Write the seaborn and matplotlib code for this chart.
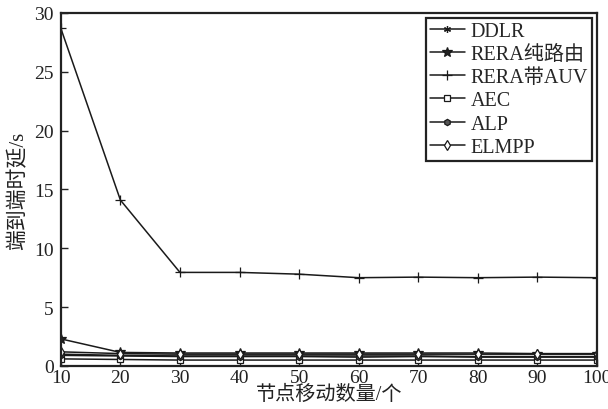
import matplotlib
matplotlib.use("Agg")
import matplotlib.pyplot as plt
import seaborn as sns
import pandas as pd

x_nodes = [10, 20, 30, 40, 50, 60, 70, 80, 90, 100]
ddlr = [1.0, 0.9, 0.85, 0.85, 0.85, 0.85, 0.85, 0.8, 0.8, 0.8]
rera_route = [2.3, 1.15, 1.1, 1.1, 1.1, 1.1, 1.1, 1.1, 1.05, 1.05]
rera_auv = [28.7, 14.1, 7.95, 7.95, 7.8, 7.5, 7.55, 7.5, 7.55, 7.5]
aec = [0.6, 0.55, 0.5, 0.5, 0.5, 0.5, 0.5, 0.5, 0.5, 0.5]
alp = [0.9, 0.85, 0.8, 0.8, 0.8, 0.75, 0.8, 0.75, 0.75, 0.75]
elmpp = [1.2, 1.05, 1.0, 1.0, 1.0, 1.0, 1.0, 1.0, 1.0, 1.0]
series_names = ["DDLR", "RERA纯路由", "RERA带AUV", "AEC", "ALP", "ELMPP"]
x_label = "节点移动数量/个"
y_label = "端到端时延/s"
x_ticks = [10, 20, 30, 40, 50, 60, 70, 80, 90, 100]
y_ticks = [0, 5, 10, 15, 20, 25, 30]

sns.set_style("ticks")
plt.rcParams['font.family'] = ['Liberation Serif', 'Noto Sans CJK SC']
plt.rcParams['axes.unicode_minus'] = False

values = [ddlr, rera_route, rera_auv, aec, alp, elmpp]
df = pd.DataFrame({
    "x": x_nodes * len(series_names),
    "y": [v for s in values for v in s],
    "series": [n for n in series_names for _ in x_nodes],
})

marker_map = {"DDLR": (6, 2, 0), "RERA纯路由": "*", "RERA带AUV": "+",
              "AEC": "s", "ALP": "h", "ELMPP": "d"}
size_map = {"DDLR": 5, "RERA纯路由": 7, "RERA带AUV": 7,
            "AEC": 4, "ALP": 4.5, "ELMPP": 5}
face_map = {"DDLR": "#222222", "RERA纯路由": "#222222", "RERA带AUV": "#222222",
            "AEC": "white", "ALP": "#555555", "ELMPP": "white"}

fig = plt.figure(figsize=(6.08, 4.10), dpi=100)
ax = fig.add_axes([0.100, 0.105, 0.882, 0.861])

for name in series_names:
    sub = df[df["series"] == name]
    sns.lineplot(data=sub, x="x", y="y", ax=ax, color="#1a1a1a", linewidth=1.1,
                 marker=marker_map[name], markersize=size_map[name],
                 markerfacecolor=face_map[name], markeredgecolor="#1a1a1a",
                 markeredgewidth=0.9, label=name)

ax.set_xlim(10, 100)
ax.set_ylim(0, 30)
ax.set_xticks(x_ticks)
ax.set_yticks(y_ticks)
ax.tick_params(direction="in", length=5, width=1.0, labelsize=14, pad=5,
               colors="#222222")
ax.tick_params(axis="x", pad=2)
for sp in ax.spines.values():
    sp.set_linewidth(1.6)
    sp.set_color("#222222")
    sp.set_visible(True)

ax.set_xlabel(x_label, fontsize=14.5, labelpad=-1, color="#222222")
ax.set_ylabel(y_label, fontsize=15, labelpad=4, color="#222222")

leg = ax.legend(loc="upper right", fontsize=14.5, frameon=True, fancybox=False,
                edgecolor="#222222", handlelength=1.7, handletextpad=0.3,
                borderpad=0.2, labelspacing=0.2, borderaxespad=0.25)
leg.get_frame().set_linewidth(1.6)
leg.get_frame().set_alpha(1)

fig.savefig("out.png", dpi=100, facecolor="white")
